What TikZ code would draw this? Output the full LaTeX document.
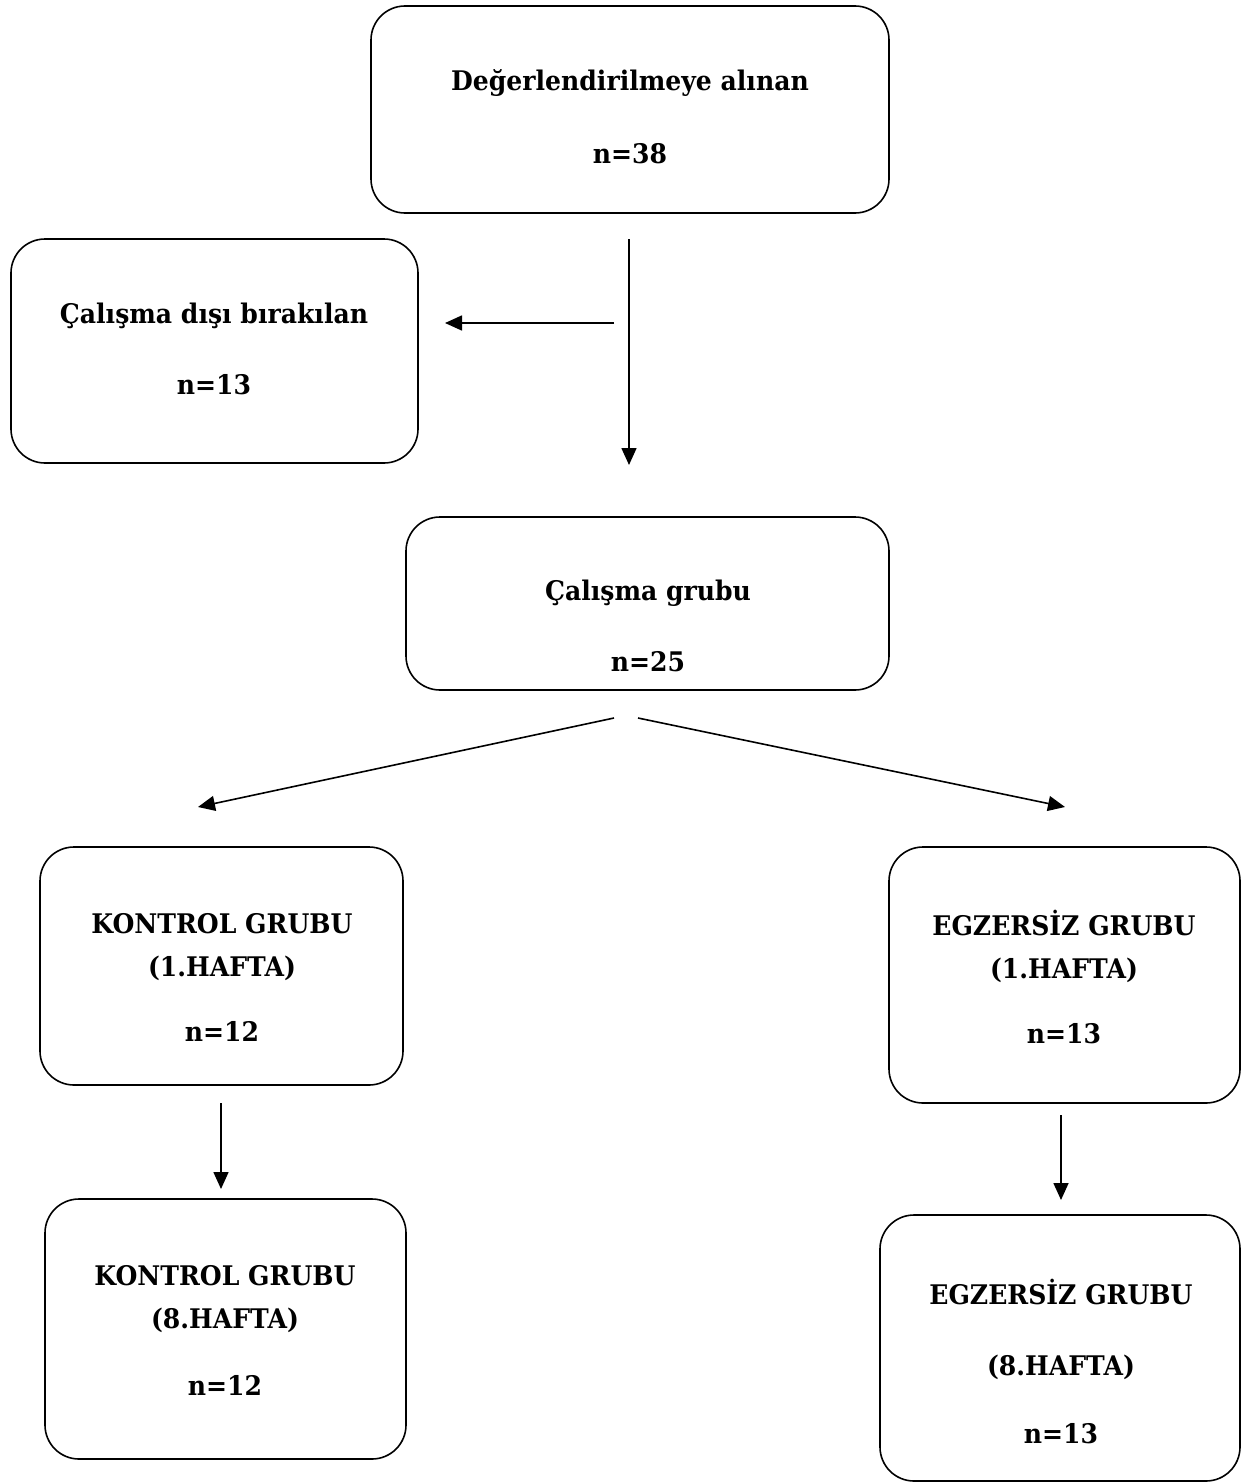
\documentclass[tikz,border=0pt]{standalone}
\usepackage{fontspec}
\setmainfont{DejaVu Serif}[FakeStretch=0.93]
\usetikzlibrary{arrows.meta}
\begin{document}
\begin{tikzpicture}[x=1pt,y=-1pt,
  box/.style={draw,line width=1.6pt,rounded corners=34pt,inner sep=0pt},
  txt/.style={align=center,font=\fontsize{27}{43}\selectfont\bfseries},
  arr/.style={line width=1.6pt,-{Triangle[length=17pt,width=15pt]}}]
\path[use as bounding box,fill=white] (0,0) rectangle (1243,1483);
% boxes
\node[box,minimum width=518pt,minimum height=207pt] (b1) at (630,109.5) {};
\node[box,minimum width=407pt,minimum height=224pt] (b2) at (214.5,351) {};
\node[box,minimum width=483pt,minimum height=173pt] (b3) at (647.5,603.5) {};
\node[box,minimum width=363pt,minimum height=238pt] (b4) at (221.5,966) {};
\node[box,minimum width=351pt,minimum height=256pt] (b5) at (1064.5,975) {};
\node[box,minimum width=361pt,minimum height=260pt] (b6) at (225.5,1329) {};
\node[box,minimum width=360pt,minimum height=266pt] (b7) at (1060,1348) {};
% texts
\node[txt] (t1) at (630,116.5) {Değerlendirilmeye alınan\\[30pt]n=38};
\node[txt] (t2) at (214,348.5) {Çalışma dışı bırakılan\\[28pt]n=13};
\node[txt] (t3) at (648,625.5) {Çalışma grubu\\[28pt]n=25};
\node[txt] (t4) at (222,977) {KONTROL GRUBU\\(1.HAFTA)\\[22pt]n=12};
\node[txt] (t5) at (1064,977) {EGZERSİZ GRUBU\\(1.HAFTA)\\[22pt]n=13};
\node[txt] (t6) at (225,1330.5) {KONTROL GRUBU\\(8.HAFTA)\\[24pt]n=12};
\node[txt] (t7) at (1061,1361.5) {EGZERSİZ GRUBU\\[28pt](8.HAFTA)\\[25pt]n=13};
% connector ends
\coordinate (a1s) at (629,239);
\coordinate (a1e) at (629,465);
\coordinate (a2s) at (614,323);
\coordinate (a2e) at (445,323);
\coordinate (a3s) at (614,718);
\coordinate (a3e) at (198,807);
\coordinate (a4s) at (638,718);
\coordinate (a4e) at (1065,807);
\coordinate (a5s) at (221,1103);
\coordinate (a5e) at (221,1189);
\coordinate (a6s) at (1061,1115);
\coordinate (a6e) at (1061,1200);
\draw[arr] (a1s) -- (a1e);
\draw[arr] (a2s) -- (a2e);
\draw[arr] (a3s) -- (a3e);
\draw[arr] (a4s) -- (a4e);
\draw[arr] (a5s) -- (a5e);
\draw[arr] (a6s) -- (a6e);
\end{tikzpicture}
\end{document}
